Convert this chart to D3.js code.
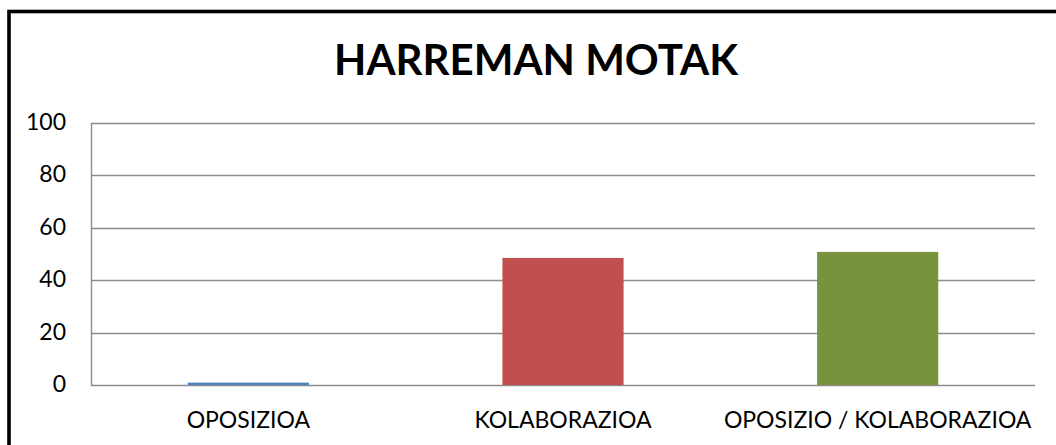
<!DOCTYPE html>
<html>
<head>
<meta charset="utf-8">
<script src="https://cdn.jsdelivr.net/npm/d3@7"></script>
<style>
  html, body { margin: 0; padding: 0; background: #fff; }
  svg { display: block; }
</style>
</head>
<body>
<div id="chart"></div>
<script>
// chart data
const title = "HARREMAN MOTAK";
const categories = ["OPOSIZIOA", "KOLABORAZIOA", "OPOSIZIO / KOLABORAZIOA"];
const values = [0.9, 48.5, 50.8];
const barColors = ["#4F81BD", "#C0504D", "#77933C"];
const yTicks = [0, 20, 40, 60, 80, 100];

const W = 1056, H = 445;
const plot = { left: 91, right: 1035, top: 123, bottom: 385 };
const font = "Lato, 'Open Sans', sans-serif";
const gridColor = "#8c8c8c";

const svg = d3.select("#chart").append("svg")
    .attr("width", W).attr("height", H);

// outer chart border (runs off the right and bottom of the picture)
svg.append("rect")
    .attr("x", 9).attr("y", 11.5)
    .attr("width", 1056).attr("height", 460)
    .attr("fill", "#fff")
    .attr("stroke", "#000").attr("stroke-width", 3.6);

const x = d3.scaleBand()
    .domain(categories)
    .range([plot.left, plot.right])
    .paddingInner(0.615)
    .paddingOuter(0.3075);

const y = d3.scaleLinear()
    .domain([0, 100])
    .range([plot.bottom, plot.top]);

// gridlines
svg.append("g")
    .selectAll("line")
    .data(yTicks)
    .join("line")
    .attr("x1", plot.left).attr("x2", plot.right)
    .attr("y1", d => Math.round(y(d)) + 0.5).attr("y2", d => Math.round(y(d)) + 0.5)
    .attr("stroke", gridColor).attr("stroke-width", 1.4);

// vertical axis line
svg.append("line")
    .attr("x1", plot.left + 0.5).attr("x2", plot.left + 0.5)
    .attr("y1", y(100)).attr("y2", y(0) + 1)
    .attr("stroke", gridColor).attr("stroke-width", 1.4);

// bars
svg.append("g")
    .selectAll("rect")
    .data(values)
    .join("rect")
    .attr("x", (d, i) => x(categories[i]))
    .attr("width", x.bandwidth())
    .attr("y", d => y(d))
    .attr("height", d => y(0) - y(d))
    .attr("fill", (d, i) => barColors[i]);

// y tick labels
svg.append("g")
    .selectAll("text")
    .data(yTicks)
    .join("text")
    .attr("x", 66)
    .attr("y", d => y(d) + 7)
    .attr("text-anchor", "end")
    .attr("font-family", font)
    .attr("font-size", 23)
    .attr("fill", "#000")
    .text(d => d);

// category labels
svg.append("g")
    .selectAll("text")
    .data(categories)
    .join("text")
    .attr("x", d => x(d) + x.bandwidth() / 2)
    .attr("y", 428)
    .attr("text-anchor", "middle")
    .attr("font-family", font)
    .attr("font-size", 23)
    .attr("fill", "#000")
    .text(d => d);

// title
svg.append("text")
    .attr("x", 536).attr("y", 75)
    .attr("text-anchor", "middle")
    .attr("font-family", font)
    .attr("font-weight", "bold")
    .attr("font-size", 42)
    .attr("fill", "#000")
    .text(title);
</script>
</body>
</html>
